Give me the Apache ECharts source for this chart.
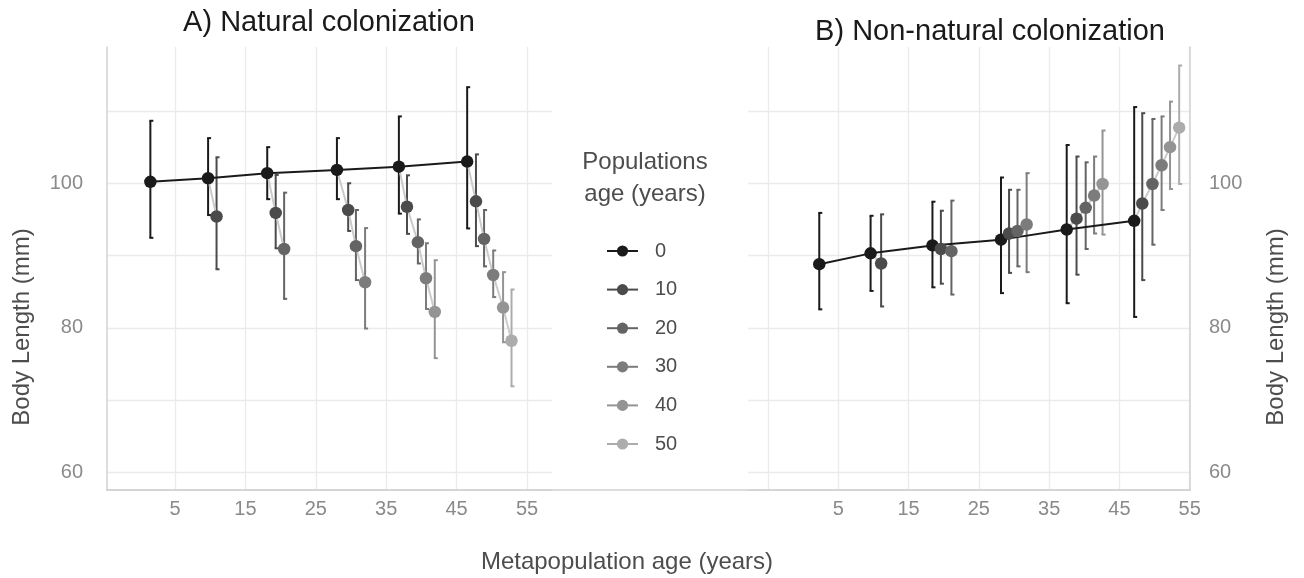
<!DOCTYPE html>
<html>
<head>
<meta charset="utf-8">
<script src="https://cdn.jsdelivr.net/npm/echarts@6/dist/echarts.min.js"></script>
<style>
  html, body { margin: 0; padding: 0; background: #fff; }
  #main { width: 1304px; height: 578px; }
</style>
</head>
<body>
<div id="main"></div>
<script>
var myChart = echarts.init(document.getElementById('main'));

// population age classes (legend) and their grey shades
const popAges = ['0', '10', '20', '30', '40', '50'];
const greys = ['#1a1a1a', '#4b4b4b', '#646464', '#7c7c7c', '#949494', '#acacac'];

// rows: [metapopulation age, mean body length, lower, upper]
// A) natural colonization
const natAge0 = [[1.5, 100.2, 92.45, 108.65], [9.7, 100.7, 95.6, 106.25], [18.1, 101.4, 97.8, 105.0], [28.0, 101.85, 97.8, 106.25], [36.8, 102.3, 95.8, 109.25], [46.5, 103.0, 93.75, 113.3]];
const natAge10 = [[10.9, 95.4, 88.1, 103.6], [19.3, 95.9, 91.0, 101.15], [29.6, 96.3, 93.4, 100.0], [37.95, 96.75, 93.0, 101.1], [47.75, 97.5, 91.3, 104.0]];
const natAge20 = [[20.5, 90.9, 84.0, 98.7], [30.7, 91.3, 86.6, 96.3], [39.5, 91.85, 88.9, 95.0], [48.9, 92.3, 88.5, 96.3]];
const natAge30 = [[32.0, 86.3, 79.9, 93.8], [40.65, 86.85, 82.6, 91.7], [50.2, 87.3, 84.25, 90.7]];
const natAge40 = [[41.9, 82.2, 75.8, 89.35], [51.6, 82.8, 78.0, 87.7]];
const natAge50 = [[52.8, 78.2, 71.9, 85.3]];

// B) non-natural colonization
const nonAge0 = [[2.3, 88.8, 82.55, 95.9], [9.6, 90.3, 85.1, 95.5], [18.4, 91.4, 85.6, 97.45], [28.15, 92.2, 84.8, 100.8], [37.5, 93.6, 83.4, 105.3], [47.1, 94.8, 81.5, 110.55]];
const nonAge10 = [[11.1, 88.9, 82.95, 95.7], [19.6, 90.9, 86.1, 96.2], [29.3, 93.05, 87.6, 99.1], [38.9, 95.1, 87.35, 103.7], [48.25, 97.2, 86.6, 109.7]];
const nonAge20 = [[21.1, 90.6, 84.6, 97.6], [30.5, 93.4, 88.5, 99.1], [40.2, 96.6, 90.9, 102.9], [49.7, 99.9, 91.5, 108.9]];
const nonAge30 = [[31.8, 94.3, 87.7, 101.4], [41.4, 98.3, 93.05, 103.7], [51.0, 102.5, 96.3, 109.25]];
const nonAge40 = [[42.6, 99.9, 92.9, 107.3], [52.2, 105.0, 99.2, 111.3]];
const nonAge50 = [[53.5, 107.7, 99.9, 116.3]];

const xTicks = [-5, 5, 15, 25, 35, 45, 55];
const xLabels = [5, 15, 25, 35, 45, 55];
const yTicks = [60, 70, 80, 90, 100, 110];
const yLabels = [60, 80, 100];

const panels = [
  [natAge0, natAge10, natAge20, natAge30, natAge40, natAge50],
  [nonAge0, nonAge10, nonAge20, nonAge30, nonAge40, nonAge50]
];

const FONT = 'Liberation Sans, Arial, sans-serif';
const gridCol = '#ebebeb';
const axisCol = '#d2d2d2';
const tickCol = '#8a8a8a';
const titleCol = '#4d4d4d';

function errorBar(params, api) {
  const x = api.value(0);
  const top = api.coord([x, api.value(2)]);
  const bot = api.coord([x, api.value(1)]);
  const c = api.visual('color');
  const st = { stroke: c, lineWidth: 2 };
  return {
    type: 'group',
    children: [
      { type: 'line', shape: { x1: top[0], y1: top[1], x2: bot[0], y2: bot[1] }, style: st },
      { type: 'line', shape: { x1: top[0] - 1, y1: top[1], x2: top[0] + 3, y2: top[1] }, style: st },
      { type: 'line', shape: { x1: bot[0] - 1, y1: bot[1], x2: bot[0] + 3, y2: bot[1] }, style: st }
    ]
  };
}

let series = [];
panels.forEach(function (ages, p) {
  // grey connectors: within one metapopulation age, from the age-0 point down the population ages
  for (let g = 1; g < ages[0].length; g++) {
    let pts = [];
    for (let k = 0; k <= g && k < ages.length; k++) {
      const row = ages[k][g - k];
      if (row) pts.push([row[0], row[1]]);
    }
    series.push({
      type: 'line', xAxisIndex: p, yAxisIndex: p, data: pts, symbol: 'none',
      lineStyle: { color: '#cbcbcb', width: 2 }, z: 2, silent: true
    });
  }
  // black line through age-0 points
  series.push({
    type: 'line', xAxisIndex: p, yAxisIndex: p, symbol: 'none',
    data: ages[0].map(r => [r[0], r[1]]),
    lineStyle: { color: greys[0], width: 2 }, z: 3, silent: true
  });
  ages.forEach(function (rows, k) {
    series.push({
      type: 'custom', xAxisIndex: p, yAxisIndex: p, renderItem: errorBar,
      itemStyle: { color: greys[k] },
      encode: { x: 0, y: [1, 2] },
      data: rows.map(r => [r[0], r[2], r[3]]), z: 2, silent: true
    });
    series.push({
      type: 'line', name: popAges[k], xAxisIndex: p, yAxisIndex: p,
      data: rows.map(r => [r[0], r[1]]),
      symbol: 'circle', symbolSize: 12.5, showSymbol: true,
      itemStyle: { color: greys[k] },
      lineStyle: { color: greys[k], width: 0 }, z: 5
    });
  });
});

function xAxisFor(grid, min, max) {
  return {
    type: 'value', gridIndex: grid, min: min, max: max,
    axisLine: { show: true, onZero: false, lineStyle: { color: axisCol, width: 1.5 } },
    axisTick: { show: false, customValues: xTicks },
    axisLabel: { customValues: xLabels, color: tickCol, fontSize: 20, fontFamily: FONT, margin: 9 },
    splitLine: { show: true, lineStyle: { color: gridCol, width: 1.3 } }
  };
}
function yAxisFor(grid, pos, margin) {
  return {
    type: 'value', gridIndex: grid, position: pos, min: 57.55, max: 118.86,
    axisLine: { show: true, onZero: false, lineStyle: { color: axisCol, width: 1.5 } },
    axisTick: { show: false, customValues: yTicks },
    axisLabel: { customValues: yLabels, color: tickCol, fontSize: 20, fontFamily: FONT, margin: margin },
    splitLine: { show: true, lineStyle: { color: gridCol, width: 1.3 } }
  };
}

let option = {
  backgroundColor: '#fff',
  animation: false,
  title: [
    { text: 'A) Natural colonization', left: 329, top: 8, textAlign: 'center', padding: 0,
      textStyle: { fontFamily: FONT, fontSize: 29, fontWeight: 'normal', color: '#1a1a1a' } },
    { text: 'B) Non-natural colonization', left: 990, top: 17, textAlign: 'center', padding: 0,
      textStyle: { fontFamily: FONT, fontSize: 29, fontWeight: 'normal', color: '#1a1a1a' } },
    { text: 'Populations\nage (years)', left: 645, top: 146, textAlign: 'center', padding: 0,
      textStyle: { fontFamily: FONT, fontSize: 24, fontWeight: 'normal', color: titleCol, lineHeight: 32 } },
    { text: 'Metapopulation age (years)', left: 627, top: 550, textAlign: 'center', padding: 0,
      textStyle: { fontFamily: FONT, fontSize: 24, fontWeight: 'normal', color: titleCol } }
  ],
  legend: {
    data: popAges, orient: 'vertical', left: 606, top: 241, padding: 0,
    itemWidth: 31, itemHeight: 14, itemGap: 18.6, selectedMode: false,
    lineStyle: { width: 2 },
    textStyle: { fontFamily: FONT, fontSize: 20, color: titleCol, lineHeight: 14, padding: [0, 0, 0, 12] }
  },
  graphic: [
    { type: 'text', x: 22, y: 327, rotation: Math.PI / 2,
      style: { text: 'Body Length (mm)', font: '24px ' + FONT, fill: titleCol, align: 'center', verticalAlign: 'middle' } },
    { type: 'text', x: 1276, y: 327, rotation: Math.PI / 2,
      style: { text: 'Body Length (mm)', font: '24px ' + FONT, fill: titleCol, align: 'center', verticalAlign: 'middle' } }
  ],
  grid: [
    { left: 107, top: 47, width: 445, height: 443 },
    { left: 748, top: 47, width: 442, height: 443 },
    { left: 107, top: 47, width: 1083, height: 443 }
  ],
  xAxis: [
    xAxisFor(0, -4.66, 58.55),
    xAxisFor(1, -7.84, 55.04),
    { type: 'value', gridIndex: 2, min: 0, max: 1,
      axisLine: { show: true, onZero: false, lineStyle: { color: axisCol, width: 1.5 } },
      axisTick: { show: false }, axisLabel: { show: false }, splitLine: { show: false } }
  ],
  yAxis: [
    yAxisFor(0, 'left', 24),
    yAxisFor(1, 'right', 19),
    { type: 'value', gridIndex: 2, show: false }
  ],
  series: series
};

myChart.setOption(option);
</script>
</body>
</html>
